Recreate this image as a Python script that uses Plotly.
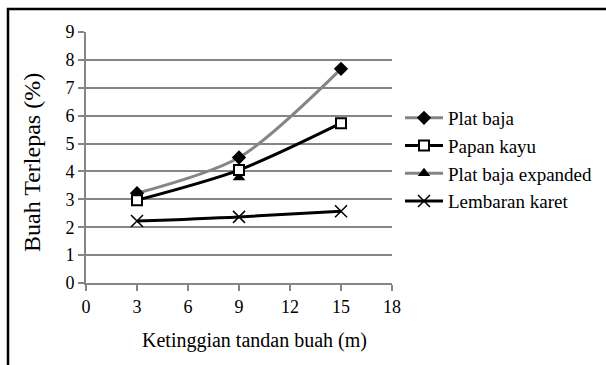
import plotly.graph_objects as go

# Tinggi jatuh tandan buah (m)
heights = [3, 9, 15]

# Persentase buah terlepas per jenis alas
plat_baja = [3.22, 4.5, 7.68]
papan_kayu = [2.97, 4.05, 5.73]
plat_baja_expanded = [None, 3.78, None]
lembaran_karet = [2.22, 2.37, 2.57]

x_ticks = [0, 3, 6, 9, 12, 15, 18]
y_ticks = [0, 1, 2, 3, 4, 5, 6, 7, 8, 9]

GRAY = "#858585"
BLACK = "#000000"
FONT = "Liberation Serif, Times New Roman, serif"

fig = go.Figure()

fig.add_trace(go.Scatter(
    x=heights, y=plat_baja_expanded, name="Plat baja expanded",
    mode="lines+markers", line=dict(color=GRAY, width=3, shape="spline"),
    marker=dict(symbol="triangle-up", size=11, color=BLACK),
    legendrank=3,
))
fig.add_trace(go.Scatter(
    x=heights, y=plat_baja, name="Plat baja",
    mode="lines+markers", line=dict(color=GRAY, width=3, shape="spline", smoothing=0.8),
    marker=dict(symbol="diamond", size=11, color=BLACK),
    legendrank=1,
))
fig.add_trace(go.Scatter(
    x=heights, y=papan_kayu, name="Papan kayu",
    mode="lines+markers", line=dict(color=BLACK, width=3, shape="spline", smoothing=0.8),
    marker=dict(symbol="square", size=10, color="white",
                line=dict(color=BLACK, width=2)),
    legendrank=2,
))
fig.add_trace(go.Scatter(
    x=heights, y=lembaran_karet, name="Lembaran karet",
    mode="lines+markers", line=dict(color=BLACK, width=3, shape="spline"),
    marker=dict(symbol="x-thin-open", size=12, color=BLACK,
                line=dict(color=BLACK, width=1.5)),
    legendrank=4,
))

L, R, T, B = 86, 214, 32, 82
W, H = 606, 365
pw, ph = W - L - R, H - T - B


def px_x(px):
    return (px - L) / pw


def px_y(py):
    return (H - B - py) / ph


# Bingkai luar grafik (tepi kiri dan atas)
fig.add_shape(type="rect", xref="paper", yref="paper",
              x0=px_x(8), x1=px_x(W + 10),
              y0=px_y(H + 10), y1=px_y(9),
              line=dict(color=BLACK, width=2.5), fillcolor="rgba(0,0,0,0)",
              layer="below")

# Judul sumbu
fig.add_annotation(text="Ketinggian tandan buah (m)", xref="paper", yref="paper",
                   x=px_x(254), y=px_y(340), showarrow=False,
                   xanchor="center", yanchor="middle",
                   font=dict(family=FONT, size=20, color=BLACK))
fig.add_annotation(text="Buah Terlepas (%)", xref="paper", yref="paper",
                   x=px_x(32), y=px_y(163), showarrow=False, textangle=-90,
                   xanchor="center", yanchor="middle",
                   font=dict(family=FONT, size=24, color=BLACK))

fig.update_layout(
    width=W, height=H,
    margin=dict(l=L, r=R, t=T, b=B, autoexpand=False),
    paper_bgcolor="white", plot_bgcolor="white",
    font=dict(family=FONT, color=BLACK),
    showlegend=True,
    legend=dict(x=px_x(400), y=px_y(99), xanchor="left", yanchor="top",
                font=dict(family=FONT, size=19, color=BLACK),
                itemwidth=38,
                bgcolor="rgba(0,0,0,0)", tracegroupgap=0),
    xaxis=dict(range=[0, 18], tickvals=x_ticks, ticktext=[str(v) for v in x_ticks],
               showgrid=False, zeroline=False,
               showline=True, linecolor=GRAY, linewidth=2,
               ticks="outside", ticklen=6, tickwidth=2, tickcolor=GRAY,
               tickfont=dict(family=FONT, size=18, color=BLACK)),
    yaxis=dict(range=[0, 9], tickvals=y_ticks, ticktext=[str(v) for v in y_ticks],
               showgrid=True, gridcolor=GRAY, gridwidth=2, zeroline=False,
               showline=True, linecolor=GRAY, linewidth=2,
               ticks="outside", ticklen=6, tickwidth=2, tickcolor=GRAY,
               tickfont=dict(family=FONT, size=18, color=BLACK)),
)

fig.write_html("out.html")
